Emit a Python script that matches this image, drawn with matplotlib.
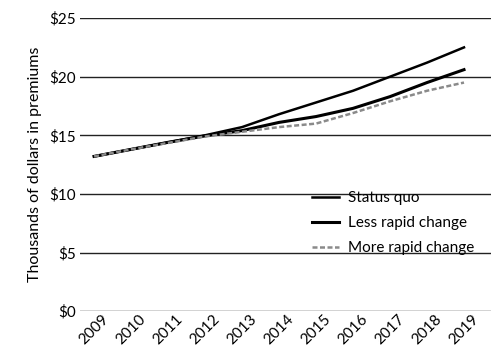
import numpy as np
import matplotlib
matplotlib.use("Agg")
import matplotlib.pyplot as plt

plt.rcParams['font.family'] = ['Lato', 'DejaVu Sans']

years = [2009, 2010, 2011, 2012, 2013, 2014, 2015, 2016, 2017, 2018, 2019]
status_quo = [13.2, 13.8, 14.4, 15.0, 15.7, 16.8, 17.8, 18.8, 20.0, 21.2, 22.5]
less_rapid = [13.2, 13.8, 14.4, 14.95, 15.4, 16.1, 16.6, 17.3, 18.3, 19.5, 20.6]
more_rapid = [13.2, 13.8, 14.35, 14.9, 15.3, 15.7, 16.0, 16.9, 17.9, 18.8, 19.5]
yticks = [0, 5, 10, 15, 20, 25]
ytick_labels = ["$0", "$5", "$10", "$15", "$20", "$25"]

fig = plt.figure(figsize=(4.91, 3.48), dpi=100)
ax = fig.add_axes([0.163, 0.106, 0.837, 0.842])

for v in yticks:
    ax.axhline(v, color="#222222", lw=1.0, zorder=1)

ax.plot(years, status_quo, color="black", lw=1.8, label="Status quo", zorder=3)
ax.plot(years, less_rapid, color="black", lw=2.2, label="Less rapid change", zorder=3)
ax.plot(years, more_rapid, color="#8a8a8a", lw=1.8, ls=(0, (2, 1)),
        label="More rapid change", zorder=3)

ax.set_xlim(2008.62, 2019.73)
ax.set_ylim(0, 25)
ax.set_yticks(yticks)
ax.set_yticklabels(ytick_labels, fontsize=11)
ax.set_xticks(years)
ax.set_xticklabels([str(y) for y in years], rotation=45, ha="center", fontsize=11)
ax.tick_params(axis="both", length=0, pad=3)
ax.tick_params(axis="x", pad=1)
for s in ax.spines.values():
    s.set_visible(False)

ax.set_ylabel("Thousands of dollars in premiums", fontsize=11.5, labelpad=5)

ax.legend(loc="upper left", bbox_to_anchor=(0.545, 0.435), frameon=False,
          fontsize=11, handlelength=1.8, handletextpad=0.6, labelspacing=0.72,
          borderpad=0)

fig.savefig("out.png", dpi=100)
